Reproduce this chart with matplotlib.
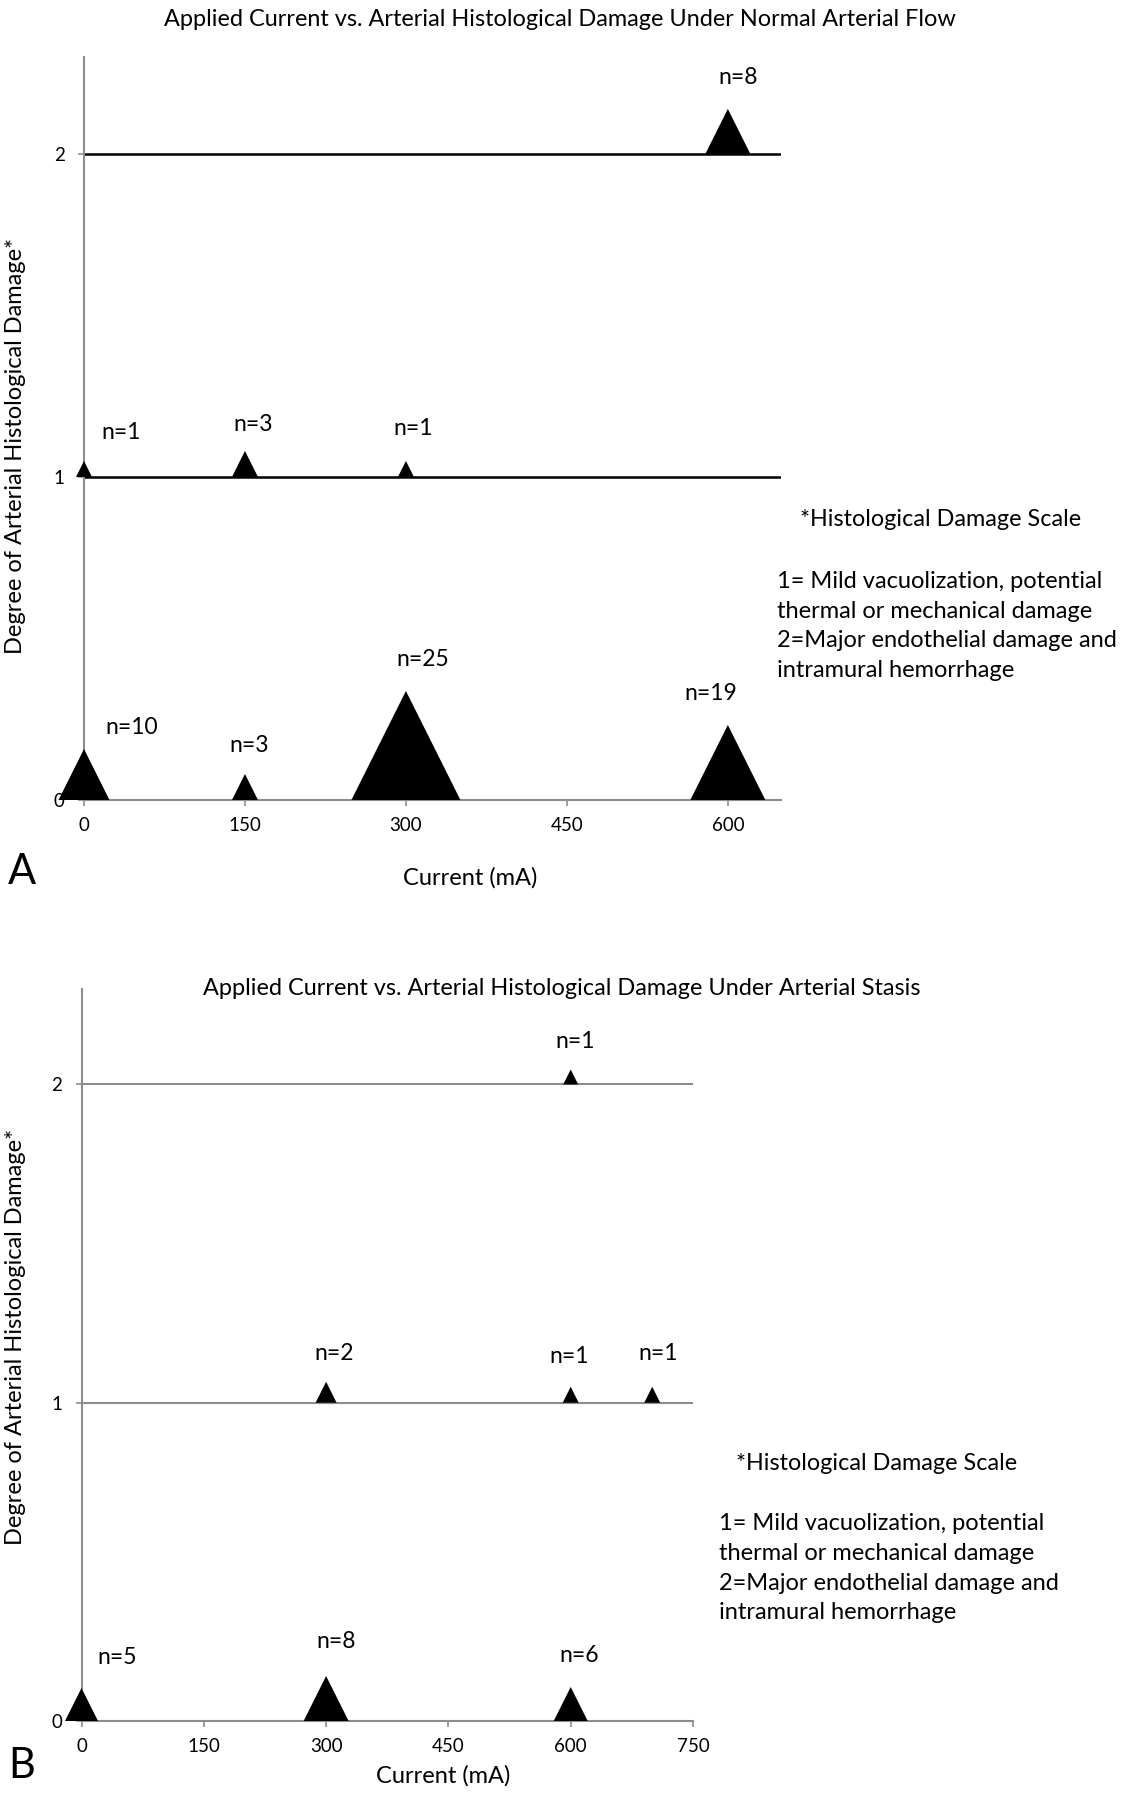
import matplotlib
matplotlib.use('Agg')
import matplotlib.pyplot as plt
from matplotlib.path import Path

plt.rcParams['font.family'] = ['Lato', 'DejaVu Sans']

# panel A: normal arterial flow
current_a = [0, 150, 300, 600, 0, 150, 300, 600]
damage_a = [0, 0, 0, 0, 1, 1, 1, 2]
n_a = [10, 3, 25, 19, 1, 3, 1, 8]

# panel B: arterial stasis
current_b = [0, 300, 600, 300, 600, 700, 600]
damage_b = [0, 0, 0, 1, 1, 1, 2]
n_b = [5, 8, 6, 2, 1, 1, 1]

xticks_a = [0, 150, 300, 450, 600]
xticks_b = [0, 150, 300, 450, 600, 750]
yticks = [0, 1, 2]

title_a = 'Applied Current vs. Arterial Histological Damage Under Normal Arterial Flow'
title_b = 'Applied Current vs. Arterial Histological Damage Under Arterial Stasis'
ylabel = 'Degree of Arterial Histological Damage*'
xlabel = 'Current (mA)'
scale_head = '*Histological Damage Scale'
scale_lines = ['1= Mild vacuolization, potential',
               'thermal or mechanical damage',
               '2=Major endothelial damage and',
               'intramural hemorrhage']

# marker widths (px) and label offsets (px)
width_a = [51, 26, 109, 75, 16, 26, 16, 45]
offset_a = [(48, 72), (4, 54), (17, 140), (-17, 107),
            (37, 44), (8, 52), (7, 48), (10, 76)]
width_b = [33, 45, 34, 21, 16, 16, 15]
offset_b = [(36, 63), (10, 79), (8, 65),
            (8, 49), (-2, 46), (6, 49), (4, 43)]

W, H = 1128, 1800
fig = plt.figure(figsize=(W / 100, H / 100), dpi=100)

tri = Path([(-1, 0), (1, 0), (0, 2), (-1, 0)],
           [Path.MOVETO, Path.LINETO, Path.LINETO, Path.CLOSEPOLY])

axis_grey = '#8c8c8c'


def panel(rect, xs, ys, ns, widths, offsets, xticks, xmax, grid_color, grid_lw):
    ax = fig.add_axes(rect)
    ax.set_xlim(0, xmax)
    ax.set_ylim(0, 2.3)
    for v in yticks[1:]:
        ax.axhline(v, color=grid_color, lw=grid_lw, zorder=1)
    sizes = [(1.44 * w) ** 2 for w in widths]
    ax.scatter(xs, ys, s=sizes, marker=tri, color='black', linewidths=0,
               clip_on=False, zorder=5)
    for x, y, n, (dx, dy) in zip(xs, ys, ns, offsets):
        ax.annotate('n=%d' % n, (x, y), xytext=(dx, dy), textcoords='offset pixels',
                    ha='center', va='center', fontsize=16.5)
    for s in ['top', 'right']:
        ax.spines[s].set_visible(False)
    for s in ['left', 'bottom']:
        ax.spines[s].set_color(axis_grey)
        ax.spines[s].set_linewidth(1.5)
    ax.set_xticks(xticks)
    ax.set_yticks(yticks)
    ax.tick_params(axis='x', length=4, width=1.2, color=axis_grey, pad=8, labelsize=13.5)
    ax.tick_params(axis='y', length=4, width=1.2, color=axis_grey, pad=10, labelsize=13.5)
    return ax


def ftext(x, y, s, **kw):
    fig.text(x / W, 1 - y / H, s, **kw)


panel([84 / W, 1 - 800 / H, (781.5 - 84) / W, (800 - 57) / H],
      current_a, damage_a, n_a, width_a, offset_a, xticks_a, 650, 'black', 1.8)
panel([81.5 / W, 1 - 1721 / H, (693 - 81.5) / W, (1721 - 989) / H],
      current_b, damage_b, n_b, width_b, offset_b, xticks_b, 750, axis_grey, 1.5)

ftext(560, 20, title_a, ha='center', va='center', fontsize=16.9)
ftext(562, 989, title_b, ha='center', va='center', fontsize=16.9)

ftext(16, 446, ylabel, rotation=90, ha='center', va='center', fontsize=17)
ftext(16, 1337, ylabel, rotation=90, ha='center', va='center', fontsize=17)

ftext(470, 878, xlabel, ha='center', va='center', fontsize=17)
ftext(443, 1776, xlabel, ha='center', va='center', fontsize=17)

ftext(22, 872, 'A', ha='center', va='center', fontsize=30)
ftext(22, 1766, 'B', ha='center', va='center', fontsize=30)

for hx, hy, bx, by in [(800, 520, 777, 582), (736, 1463, 718.5, 1524)]:
    ftext(hx, hy, scale_head, ha='left', va='center', fontsize=16.8)
    for i, line in enumerate(scale_lines):
        ftext(bx, by + i * 29.5, line, ha='left', va='center', fontsize=17)

fig.savefig('out.png', dpi=100, facecolor='white')
